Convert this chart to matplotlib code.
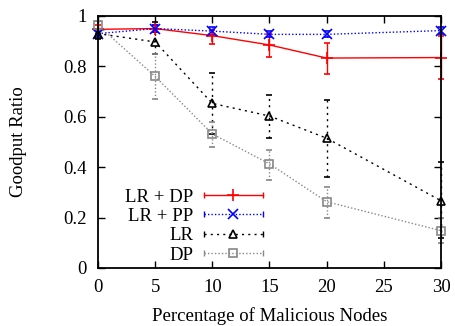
import matplotlib
matplotlib.use("Agg")
import matplotlib.pyplot as plt
from matplotlib.lines import Line2D
from matplotlib.legend_handler import HandlerLine2D, HandlerTuple

plt.rcParams['font.family'] = ['Liberation Serif', 'DejaVu Serif']
plt.rcParams['font.size'] = 13.5

x = [0, 5, 10, 15, 20, 30]

lr_dp = [0.947, 0.950, 0.922, 0.885, 0.833, 0.835]
lr_dp_lo = [0.930, 0.935, 0.890, 0.839, 0.770, 0.750]
lr_dp_hi = [0.965, 0.965, 0.944, 0.930, 0.894, 0.920]

lr_pp = [0.930, 0.950, 0.940, 0.927, 0.927, 0.942]
lr_pp_lo = [0.920, 0.935, 0.925, 0.915, 0.915, 0.930]
lr_pp_hi = [0.940, 0.965, 0.955, 0.940, 0.940, 0.955]

lr = [0.930, 0.897, 0.653, 0.603, 0.515, 0.267]
lr_lo = [0.910, 0.850, 0.530, 0.516, 0.360, 0.120]
lr_hi = [0.950, 0.975, 0.775, 0.688, 0.667, 0.420]

dp = [0.963, 0.760, 0.532, 0.413, 0.263, 0.148]
dp_lo = [0.945, 0.670, 0.480, 0.350, 0.200, 0.100]
dp_hi = [0.980, 0.850, 0.580, 0.470, 0.320, 0.200]

labels = ['LR + DP', 'LR + PP', 'LR', 'DP']

fig = plt.figure(figsize=(4.56, 3.26), dpi=100)
ax = fig.add_axes([0.215, 0.178, 0.752, 0.773])


def err(v, lo, hi):
    return [[a - b for a, b in zip(v, lo)], [c - a for a, c in zip(v, hi)]]


series = [
    (lr_dp, lr_dp_lo, lr_dp_hi, dict(color='red', marker='+', ls='-', ms=9)),
    (lr_pp, lr_pp_lo, lr_pp_hi, dict(color='blue', marker='x', ls=(0, (1, 1.5)), ms=7)),
    (lr, lr_lo, lr_hi, dict(color='black', marker='^', ls=(0, (1.5, 3)), ms=6)),
    (dp, dp_lo, dp_hi, dict(color='#888888', marker='s', ls=(0, (1, 1.5)), ms=6)),
]

handles = []
hmap = {}
for (v, lo, hi, st), lab in zip(series, labels):
    eb = ax.errorbar(x, v, yerr=err(v, lo, hi), lw=1.0, capsize=2.5,
                     elinewidth=1.0, mew=1.2, mfc='none', **st)
    for art in eb.get_children():
        art.set_clip_on(False)
    for bar in eb[2]:
        bar.set_linestyle(st['ls'])
    caps = Line2D([], [], color=st['color'], ls=st['ls'], lw=1.0,
                  marker='|', ms=4, mew=1.0)
    mark = Line2D([], [], color=st['color'], ls='none', marker=st['marker'],
                  ms=st['ms'], mfc='none', mew=1.2)
    hmap[caps] = HandlerLine2D(numpoints=2)
    hmap[mark] = HandlerLine2D(numpoints=1)
    handles.append((caps, mark))
hmap[tuple] = HandlerTuple(ndivide=1, pad=0)

ax.set_xlim(0, 30)
ax.set_ylim(0, 1)
ax.set_xticks([0, 5, 10, 15, 20, 25, 30])
ax.set_xticklabels(['0', '5', '10', '15', '20', '25', '30'])
ax.set_yticks([0, 0.2, 0.4, 0.6, 0.8, 1.0])
ax.set_yticklabels(['0', '0.2', '0.4', '0.6', '0.8', '1'])
ax.tick_params(direction='in', top=True, right=True, length=5, width=1, pad=8)
for s in ax.spines.values():
    s.set_linewidth(1.3)

ax.set_xlabel('Percentage of Malicious Nodes', labelpad=8)
ax.set_ylabel('Goodput Ratio', labelpad=26)

leg = ax.legend(handles, labels, handler_map=hmap, loc='lower left',
                bbox_to_anchor=(0.04, -0.035), markerfirst=False, frameon=False,
                handlelength=3.7, labelspacing=0.12, handletextpad=0.3,
                borderaxespad=0.3)
for t in leg.get_texts():
    t.set_ha('right')

fig.savefig('out.png', dpi=100)
